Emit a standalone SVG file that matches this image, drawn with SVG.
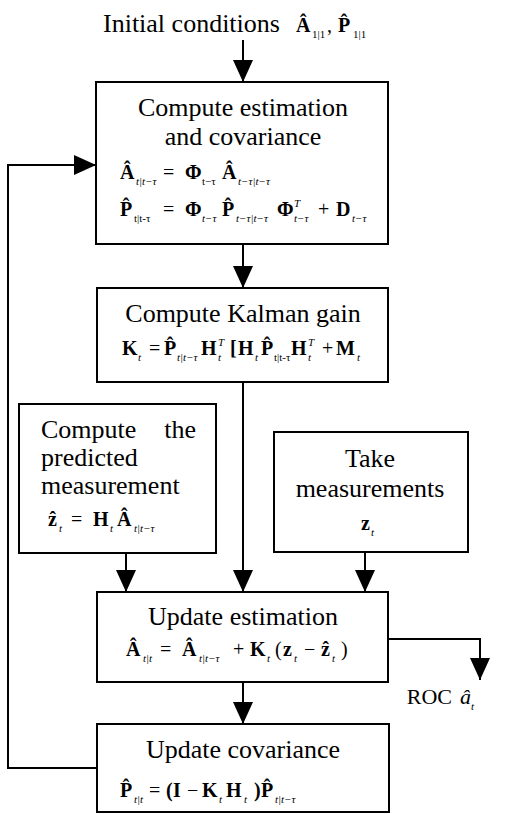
<svg xmlns="http://www.w3.org/2000/svg" width="513" height="814" viewBox="0 0 513 814">
<style>
.box{fill:#fff;stroke:#000;stroke-width:2}
.ln{fill:none;stroke:#000;stroke-width:2}
.t{font-family:'Liberation Serif','Times New Roman',serif;font-size:26px;fill:#000}
.c{text-anchor:middle}
.m{font-family:'Liberation Serif','Times New Roman',serif;font-size:20px;font-weight:bold;fill:#000}
.r{font-family:'Liberation Serif','Times New Roman',serif;font-size:20px;fill:#000}
.s{font-family:'Liberation Serif','Times New Roman',serif;font-size:11px;font-style:italic;font-weight:normal}
.su{font-family:'Liberation Serif','Times New Roman',serif;font-size:11px;font-style:normal;font-weight:normal}
</style>
<defs>
<marker id="ah" viewBox="0 0 22 20" refX="22" refY="10" markerWidth="22" markerHeight="20" markerUnits="userSpaceOnUse" orient="auto">
<path d="M0,0 L22,10 L0,20 Z" fill="#000"/>
</marker>
</defs>

<g id="connectors">
<path class="ln" d="M243,40 V82" marker-end="url(#ah)"/>
<path class="ln" d="M243,244 V288" marker-end="url(#ah)"/>
<path class="ln" d="M243,382 V592" marker-end="url(#ah)"/>
<path class="ln" d="M126,553 V592" marker-end="url(#ah)"/>
<path class="ln" d="M365,552 V592" marker-end="url(#ah)"/>
<path class="ln" d="M243,682 V724" marker-end="url(#ah)"/>
<path class="ln" d="M388,639 H480 V680" marker-end="url(#ah)"/>
<path class="ln" d="M97,768 H8 V165 H96" marker-end="url(#ah)"/>
</g>

<g id="initial">
<text class="t" x="103" y="32">Initial conditions</text>
<text class="m" x="296" y="32">Â</text>
<text class="su" x="312" y="38">1|1</text>
<text class="r" x="327" y="32">,</text>
<text class="m" x="338" y="32">P̂</text>
<text class="su" x="353" y="38">1|1</text>
</g>

<g id="box1">
<rect class="box" x="96" y="82" width="292" height="162"/>
<text class="t c" x="243" y="116">Compute estimation</text>
<text class="t c" x="243" y="145">and covariance</text>
<text class="m" x="120" y="179">Â</text>
<text class="s" x="136" y="185">t|t−τ</text>
<text class="r" x="163" y="179">=</text>
<text class="m" x="185" y="179">Φ</text>
<text class="su" x="202" y="185">t−τ</text>
<text class="m" x="222" y="179">Â</text>
<text class="s" x="238" y="185">t−τ|t−τ</text>
<text class="m" x="120" y="216">P̂</text>
<text class="su" x="134" y="222">t|t-τ</text>
<text class="r" x="163" y="216">=</text>
<text class="m" x="185" y="216">Φ</text>
<text class="s" x="202" y="222">t−τ</text>
<text class="m" x="222" y="216">P̂</text>
<text class="s" x="236" y="222">t−τ|t−τ</text>
<text class="m" x="277" y="216">Φ</text>
<text class="s" x="294" y="207">T</text>
<text class="s" x="294" y="222">t−τ</text>
<text class="r" x="318" y="216">+</text>
<text class="m" x="336" y="216">D</text>
<text class="s" x="352" y="222">t−τ</text>
</g>

<g id="box2">
<rect class="box" x="97" y="288" width="291" height="94"/>
<text class="t c" x="243" y="322">Compute Kalman gain</text>
<text class="m" x="122" y="355">K</text>
<text class="s" x="138" y="361">t</text>
<text class="r" x="149" y="355">=</text>
<text class="m" x="164" y="355">P̂</text>
<text class="s" x="177" y="361">t|t−τ</text>
<text class="m" x="201" y="355">H</text>
<text class="s" x="218" y="346">T</text>
<text class="s" x="218" y="361">t</text>
<text class="m" x="230" y="355">[</text>
<text class="m" x="238" y="355">H</text>
<text class="s" x="255" y="361">t</text>
<text class="m" x="261" y="355">P̂</text>
<text class="su" x="274" y="361">t|t-τ</text>
<text class="m" x="291" y="355">H</text>
<text class="s" x="308" y="346">T</text>
<text class="s" x="308" y="361">t</text>
<text class="r" x="322" y="355">+</text>
<text class="m" x="336" y="355">M</text>
<text class="s" x="357" y="361">t</text>
</g>

<g id="box3">
<rect class="box" x="19" y="404" width="197" height="149"/>
<text class="t" x="41" y="438">Compute</text>
<text class="t" x="196" y="438" text-anchor="end">the</text>
<text class="t" x="41" y="466">predicted</text>
<text class="t" x="41" y="494">measurement</text>
<text class="m" x="48" y="526">ẑ</text>
<text class="s" x="59" y="532">t</text>
<text class="r" x="71" y="526">=</text>
<text class="m" x="93" y="526">H</text>
<text class="s" x="110" y="532">t</text>
<text class="m" x="117" y="526">Â</text>
<text class="s" x="134" y="532">t|t−τ</text>
</g>

<g id="box4">
<rect class="box" x="274" y="432" width="194" height="120"/>
<text class="t c" x="370" y="467">Take</text>
<text class="t c" x="370" y="497">measurements</text>
<text class="m" x="361" y="530">z</text>
<text class="s" x="371" y="536">t</text>
</g>

<g id="box5">
<rect class="box" x="97" y="592" width="291" height="90"/>
<text class="t c" x="243" y="625">Update estimation</text>
<text class="m" x="126" y="656">Â</text>
<text class="s" x="143" y="662">t|t</text>
<text class="r" x="160" y="656">=</text>
<text class="m" x="182" y="656">Â</text>
<text class="s" x="199" y="662">t|t−τ</text>
<text class="r" x="233" y="656">+</text>
<text class="m" x="250" y="656">K</text>
<text class="s" x="267" y="662">t</text>
<text class="r" x="275" y="656">(</text>
<text class="m" x="283" y="656">z</text>
<text class="s" x="294" y="662">t</text>
<text class="r" x="304" y="656">−</text>
<text class="m" x="321" y="656">ẑ</text>
<text class="s" x="332" y="662">t</text>
<text class="r" x="341" y="656">)</text>
</g>

<g id="roc">
<text class="t" x="452" y="704" text-anchor="end" style="font-size:22px">ROC</text>
<text class="r" x="460" y="704" style="font-style:italic;font-size:22px">â</text>
<text class="s" x="471" y="710">t</text>
</g>

<g id="box6">
<rect class="box" x="97" y="724" width="292" height="88"/>
<text class="t c" x="243" y="758">Update covariance</text>
<text class="m" x="120" y="797">P̂</text>
<text class="s" x="134" y="803">t|t</text>
<text class="r" x="149" y="797">=</text>
<text class="m" x="166" y="797">(</text>
<text class="m" x="173" y="797">I</text>
<text class="r" x="187" y="797">−</text>
<text class="m" x="202" y="797">K</text>
<text class="s" x="219" y="803">t</text>
<text class="m" x="226" y="797">H</text>
<text class="s" x="244" y="803">t</text>
<text class="m" x="254" y="797">)</text>
<text class="m" x="261" y="797">P̂</text>
<text class="s" x="275" y="803">t|t−τ</text>
</g>
</svg>
